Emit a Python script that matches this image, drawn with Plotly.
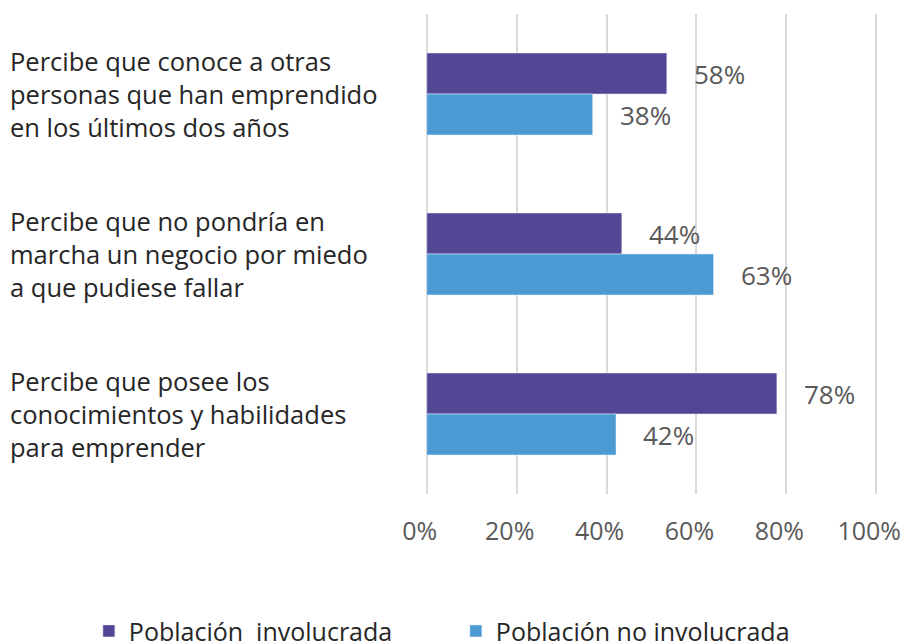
import plotly.graph_objects as go

# Categories (top to bottom) and values
categories = [
    "Percibe que conoce a otras<br>personas que han emprendido<br>en los últimos dos años",
    "Percibe que no pondría en<br>marcha un negocio por miedo<br>a que pudiese fallar",
    "Percibe que posee los<br>conocimientos y habilidades<br>para emprender",
]
series_names = ["Población  involucrada", "Población no involucrada"]
involved = [53.4, 43.4, 77.9]
not_involved = [36.9, 63.8, 42.1]
involved_labels = ["58%", "44%", "78%"]
not_involved_labels = ["38%", "63%", "42%"]
tick_values = [0, 20, 40, 60, 80, 100]
tick_labels = ["0%", "20%", "40%", "60%", "80%", "100%"]

PURPLE = "#534695"
BLUE = "#4B9AD3"
FONT = "Open Sans"

fig = go.Figure()
fig.add_trace(go.Bar(name=series_names[0], y=categories, x=involved,
                     orientation="h", marker_color=PURPLE))
fig.add_trace(go.Bar(name=series_names[1], y=categories, x=not_involved,
                     orientation="h", marker_color=BLUE))

annotations = []
# data labels to the right of each bar end
for cat, val, lab in zip(categories, involved, involved_labels):
    annotations.append(dict(x=val, y=cat, text=lab, showarrow=False,
                            xanchor="left", xshift=25, yshift=20.5,
                            font=dict(family=FONT, size=26, color="#595959")))
for cat, val, lab in zip(categories, not_involved, not_involved_labels):
    annotations.append(dict(x=val, y=cat, text=lab, showarrow=False,
                            xanchor="left", xshift=25, yshift=-20.5,
                            font=dict(family=FONT, size=26, color="#595959")))
# category labels, left aligned
for cat in categories:
    annotations.append(dict(x=-0.9205, xref="paper", y=cat, yref="y",
                            text=cat, showarrow=False, xanchor="left",
                            align="left",
                            font=dict(family=FONT, size=25.5, color="#262626")))

fig.update_layout(
    width=905, height=634,
    margin=dict(l=417, r=35, t=6, b=148, autoexpand=False),
    plot_bgcolor="white", paper_bgcolor="white",
    barmode="group", bargap=0.4875, bargroupgap=0,
    font=dict(family=FONT, size=25, color="#595959"),
    annotations=annotations,
    legend=dict(orientation="h", x=-0.742, xanchor="left", y=-0.2857,
                yanchor="middle", entrywidth=322,
                font=dict(family=FONT, size=25, color="#262626")),
)
fig.update_xaxes(range=[-0.4, 100.4], tickvals=tick_values,
                 ticktext=tick_labels,
                 showgrid=True, gridcolor="#d9d9d9", gridwidth=2,
                 zeroline=False, showline=False,
                 ticklabelstandoff=20, ticklabelshift=-7,
                 tickfont=dict(family=FONT, size=25, color="#595959"))
fig.update_yaxes(autorange="reversed", showticklabels=False, showgrid=False,
                 zeroline=False)

fig.write_html("out.html")
